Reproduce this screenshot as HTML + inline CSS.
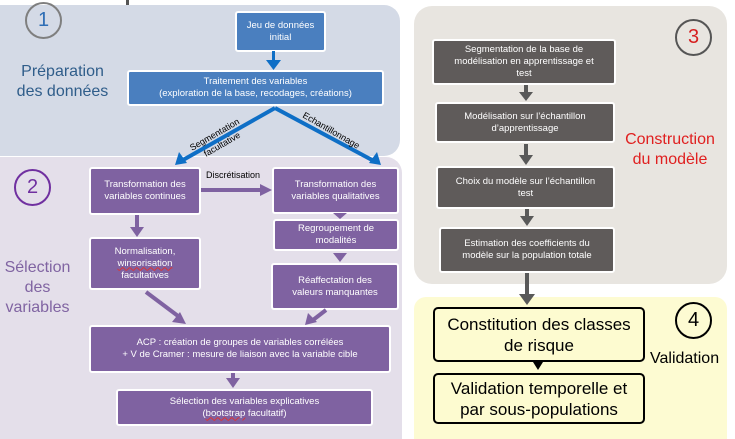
<!DOCTYPE html>
<html><head><meta charset="utf-8"><style>
body{margin:0;width:735px;height:436px;background:#fff;position:relative;overflow:hidden;font-family:"Liberation Sans",sans-serif}
.a{position:absolute;box-sizing:border-box}
.bx{position:absolute;box-sizing:border-box;display:flex;align-items:center;justify-content:center;text-align:center;color:#fff;font-size:9.5px;line-height:12px;border:2px solid #fff;border-radius:3px}
.bl{background:#4a7fbf}
.pu{background:#7f62a1}
.gr{background:#5f5b5a;border-color:#fff}
.ye{background:#fdfbd0;color:#000;border:2px solid #000;border-radius:5px;font-size:17px;line-height:21px}
.c{position:absolute;border-radius:50%;box-sizing:border-box;display:flex;align-items:center;justify-content:center;font-size:20px;background:transparent}
.w{text-decoration:underline wavy #d33}
</style></head><body>
<div class="a" style="left:0;top:5px;width:400px;height:151px;background:#d4dae6;border-radius:0 16px 16px 0"></div>
<div class="a" style="left:0;top:157px;width:402px;height:282px;background:#e4dfea;border-radius:0 16px 0 0"></div>
<div class="a" style="left:414px;top:6px;width:313px;height:278px;background:#e8e5e0;border-radius:18px"></div>
<div class="a" style="left:414px;top:297px;width:313px;height:142px;background:#fdfbd2;border-radius:12px 12px 0 0"></div>
<div class="a" style="left:126px;top:0;width:3px;height:5px;background:#555"></div>

<div class="c" style="left:25px;top:2px;width:37px;height:37px;border:2px solid #7f7f7f;color:#2e6eb5">1</div>
<div class="a" style="left:10px;top:62px;width:105px;text-align:center;color:#2f5d8a;font-size:16px;line-height:20px">Préparation<br>des données</div>
<div class="bx bl" style="left:235px;top:11px;width:91px;height:41px"><div>Jeu de données<br>initial</div></div>
<div class="bx bl" style="left:127px;top:70px;width:257px;height:36px"><div>Traitement des variables<br>(exploration de la base, recodages, créations)</div></div>

<div class="c" style="left:14px;top:169px;width:37px;height:37px;border:2px solid #7030a0;color:#7030a0">2</div>
<div class="a" style="left:0;top:258px;width:75px;text-align:center;color:#8064a2;font-size:16px;line-height:20px">Sélection<br>des<br>variables</div>
<div class="bx pu" style="left:89px;top:167px;width:112px;height:48px"><div>Transformation des<br>variables continues</div></div>
<div class="bx pu" style="left:272px;top:167px;width:127px;height:47px"><div>Transformation des<br>variables qualitatives</div></div>
<div class="bx pu" style="left:273px;top:219px;width:126px;height:32px"><div>Regroupement de<br>modalités</div></div>
<div class="bx pu" style="left:271px;top:263px;width:128px;height:47px"><div>Réaffectation des<br>valeurs manquantes</div></div>
<div class="bx pu" style="left:89px;top:237px;width:112px;height:53px"><div>Normalisation,<br><span class="w">winsorisation</span><br>facultatives</div></div>
<div class="bx pu" style="left:89px;top:325px;width:302px;height:48px"><div>ACP : création de groupes de variables corrélées<br>+ V de Cramer : mesure de liaison avec la variable cible</div></div>
<div class="bx pu" style="left:116px;top:389px;width:257px;height:37px"><div>Sélection des variables explicatives<br>(<span class="w">bootstrap</span> facultatif)</div></div>
<div class="a" style="left:206px;top:170px;font-size:9px;color:#000">Discrétisation</div>

<div class="c" style="left:675px;top:19px;width:37px;height:37px;border:2px solid #555;color:#d62020">3</div>
<div class="a" style="left:618px;top:130px;width:104px;text-align:center;color:#e02020;font-size:16px;line-height:20px">Construction<br>du modèle</div>
<div class="bx gr" style="left:432px;top:39px;width:184px;height:46px"><div>Segmentation de la base de<br>modélisation en apprentissage et<br>test</div></div>
<div class="bx gr" style="left:435px;top:102px;width:180px;height:41px"><div>Modélisation sur l’échantillon<br>d’apprentissage</div></div>
<div class="bx gr" style="left:436px;top:166px;width:179px;height:43px"><div>Choix du modèle sur l’échantillon<br>test</div></div>
<div class="bx gr" style="left:439px;top:227px;width:176px;height:46px"><div>Estimation des coefficients du<br>modèle sur la population totale</div></div>

<div class="c" style="left:675px;top:302px;width:37px;height:37px;border:2px solid #000;color:#000">4</div>
<div class="a" style="left:650px;top:350px;font-size:16px;color:#000">Validation</div>
<div class="bx ye" style="left:433px;top:307px;width:212px;height:55px"><div>Constitution des classes<br>de risque</div></div>
<div class="bx ye" style="left:433px;top:373px;width:212px;height:51px"><div>Validation temporelle et<br>par sous-populations</div></div>

<svg class="a" style="left:0;top:0" width="735" height="436">
<g fill="#0f6fc6">
<rect x="272" y="51" width="3" height="10"/><path d="M266,60h15l-7.5,10z"/>
</g>
<g stroke="#0f6fc6" stroke-width="4" fill="none">
<path d="M275,108L183,160"/><path d="M275,108L372,160"/>
</g>
<path d="M175,165l4,-13l8,11z" fill="#0f6fc6"/>
<path d="M381,165l-4,-13l-8,11z" fill="#0f6fc6"/>
<text x="0" y="0" font-size="9" font-family="Liberation Sans" transform="translate(192,151) rotate(-30)">Segmentation</text>
<text x="0" y="0" font-size="9" font-family="Liberation Sans" transform="translate(206,157) rotate(-30)">facultative</text>
<text x="0" y="0" font-size="9" font-family="Liberation Sans" transform="translate(302,117) rotate(30)">Echantillonnage</text>
<g fill="#7f62a1">
<rect x="201" y="188" width="60" height="4"/><path d="M260,184v12l12,-6z"/>
<path d="M333,213h14l-7,6z"/>
<path d="M333,253h14l-7,9z"/>
<rect x="135" y="215" width="4" height="13"/><path d="M130,227h14l-7,10z"/>
<rect x="231" y="373" width="4" height="6"/><path d="M226,378h14l-7,10z"/>
</g>
<g stroke="#7f62a1" stroke-width="4"><path d="M146,292L178,316"/><path d="M326,310L313,320"/></g>
<path d="M186,324l-14,-2l8,-10z" fill="#7f62a1"/>
<path d="M305,325l3,-12l9,9z" fill="#7f62a1"/>
<g fill="#595959">
<rect x="524" y="85" width="4" height="8"/><path d="M519,92h14l-7,9z"/>
<rect x="524" y="144" width="4" height="12"/><path d="M519,155h14l-7,10z"/>
<rect x="525" y="209" width="4" height="8"/><path d="M520,216h14l-7,10z"/>
<rect x="525" y="273" width="4" height="22"/><path d="M519,294h16l-8,11z"/>
</g>
<path d="M533,362h10l-5,8z" fill="#000"/>
</svg>
</body></html>
